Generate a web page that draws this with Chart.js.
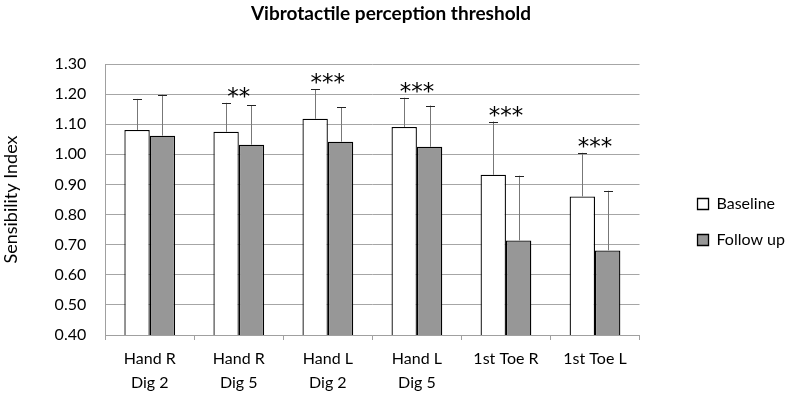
<!DOCTYPE html>
<html>
<head>
<meta charset="utf-8">
<script src="https://cdn.jsdelivr.net/npm/chart.js@4.4.1/dist/chart.umd.min.js"></script>
<style>
  html, body { margin: 0; padding: 0; background: #fff; }
  #wrap { width: 809px; height: 394px; }
</style>
</head>
<body>
<div id="wrap"><canvas id="chart" width="809" height="394"></canvas></div>
<script>
// Data
const categories = [
  ["Hand R", "Dig 2"],
  ["Hand R", "Dig 5"],
  ["Hand L", "Dig 2"],
  ["Hand L", "Dig 5"],
  "1st Toe R",
  "1st Toe L",
];
const baseline = [1.081, 1.075, 1.118, 1.091, 0.932, 0.86];
const baselineErr = [0.103, 0.096, 0.098, 0.097, 0.177, 0.145];
const followUp = [1.062, 1.032, 1.042, 1.025, 0.714, 0.681];
const followUpErr = [0.136, 0.131, 0.114, 0.137, 0.215, 0.198];
const significance = ["", "**", "***", "***", "***", "***"];

const FONT = "Lato, 'Open Sans', sans-serif";

// Upward error bars + significance stars above each group
const extrasPlugin = {
  id: "extras",
  afterDatasetsDraw(chart) {
    const ctx = chart.ctx;
    const yScale = chart.scales.y;
    const xScale = chart.scales.x;
    const errs = [baselineErr, followUpErr];

    ctx.save();
    chart.data.datasets.forEach((ds, di) => {
      const meta = chart.getDatasetMeta(di);
      meta.data.forEach((bar, i) => {
        const top = yScale.getPixelForValue(ds.data[i] + errs[di][i]);
        ctx.strokeStyle = "#777";
        ctx.lineWidth = 1;
        ctx.beginPath();
        ctx.moveTo(Math.round(bar.x) + 0.5, bar.y);
        ctx.lineTo(Math.round(bar.x) + 0.5, top);
        ctx.stroke();
        ctx.strokeStyle = "#222";
        ctx.beginPath();
        ctx.moveTo(Math.round(bar.x) - 4, Math.round(top) + 0.5);
        ctx.lineTo(Math.round(bar.x) + 5, Math.round(top) + 0.5);
        ctx.stroke();
      });
    });

    ctx.fillStyle = "#000";
    ctx.font = "23px 'DejaVu Sans', sans-serif";
    ctx.textAlign = "center";
    ctx.textBaseline = "alphabetic";
    significance.forEach((s, i) => {
      if (!s) return;
      const top = yScale.getPixelForValue(baseline[i] + baselineErr[i]);
      ctx.fillText(s, xScale.getPixelForValue(i), top + 1);
    });

    // chart title
    ctx.font = "bold 19px " + FONT;
    ctx.textBaseline = "middle";
    ctx.fillText("Vibrotactile perception threshold", 391, 14);
    ctx.restore();
  },
};

const ctx = document.getElementById("chart").getContext("2d");
const chart = new Chart(ctx, {
  type: "bar",
  data: {
    labels: categories,
    datasets: [
      {
        label: "Baseline",
        data: baseline,
        backgroundColor: "#ffffff",
        borderColor: "#000000",
        borderWidth: 1.3,
        categoryPercentage: 0.57,
        barPercentage: 1.0,
      },
      {
        label: "Follow up",
        data: followUp,
        backgroundColor: "#979797",
        borderColor: "#000000",
        borderWidth: 1.3,
        categoryPercentage: 0.57,
        barPercentage: 1.0,
      },
    ],
  },
  options: {
    responsive: false,
    animation: false,
    devicePixelRatio: 1,
    layout: {
      padding: { top: 42, right: 14, bottom: -8, left: 0 },
    },
    plugins: {
      title: { display: false },
      tooltip: { enabled: false },
      legend: {
        position: "right",
        align: "center",
        labels: {
          color: "#000",
          font: { family: FONT, size: 16 },
          boxWidth: 11,
          boxHeight: 11,
          padding: 20,
        },
      },
    },
    scales: {
      x: {
        offset: true,
        grid: {
          offset: true,
          drawOnChartArea: false,
          drawTicks: true,
          tickLength: 5,
          color: "#a0a0a0",
        },
        border: { color: "#a0a0a0" },
        ticks: {
          color: "#000",
          font: { family: FONT, size: 16, lineHeight: 1.5 },
          maxRotation: 0,
          autoSkip: false,
          padding: 7,
        },
      },
      y: {
        min: 0.4,
        max: 1.3,
        grid: { color: "#a6a6a6", drawTicks: false },
        border: { color: "#a0a0a0" },
        ticks: {
          stepSize: 0.1,
          color: "#000",
          font: { family: FONT, size: 16 },
          padding: 19,
          callback: (v) => v.toFixed(2),
        },
        title: {
          display: true,
          text: "Sensibility Index",
          color: "#000",
          font: { family: FONT, size: 18 },
          padding: { top: 0, bottom: 14 },
        },
      },
      // empty axes, only used as spacers around the plot area
      gapTop: {
        type: "linear",
        position: "top",
        display: true,
        grid: { display: false, drawTicks: false },
        border: { display: false },
        ticks: { display: false },
        afterFit: (scale) => {
          scale.height = 22;
        },
      },
      gap: {
        type: "linear",
        position: "right",
        display: true,
        grid: { display: false, drawTicks: false },
        border: { display: false },
        ticks: { display: false },
        afterFit: (scale) => {
          scale.width = 38;
        },
      },
    },
  },
  plugins: [extrasPlugin],
});
</script>
</body>
</html>
